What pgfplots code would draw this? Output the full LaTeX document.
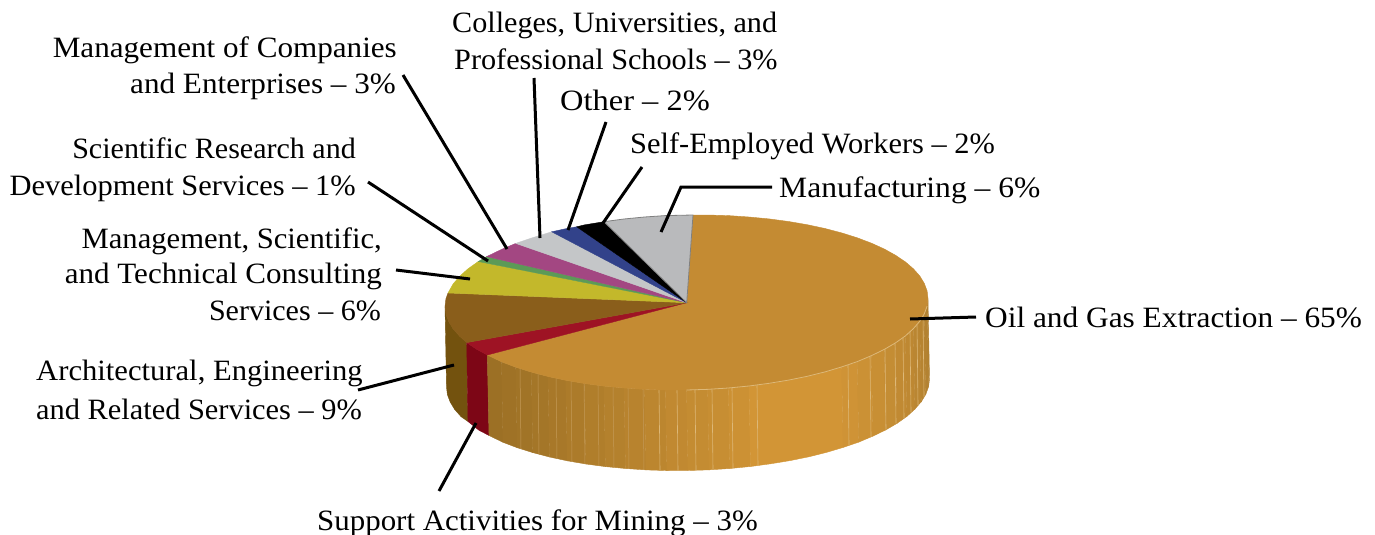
\documentclass[border=0pt]{standalone}
\usepackage{fontspec}
\setmainfont{Liberation Serif}
\usepackage{graphicx}
\usepackage{pgfplots}
\pgfplotsset{compat=1.18}

\definecolor{sideA}{HTML}{9C7025}
\definecolor{sideB}{HTML}{D29536}
\definecolor{sideC}{HTML}{B08030}
\definecolor{oiltop}{HTML}{C48B33}
\definecolor{browntop}{HTML}{8A5E1B}
\definecolor{brownside}{HTML}{73520E}
\definecolor{redtop}{HTML}{9E1324}
\definecolor{redside}{HTML}{7D0616}
\definecolor{yellowtop}{HTML}{C3B82B}
\definecolor{greentop}{HTML}{5C9A57}
\definecolor{magentatop}{HTML}{A34782}
\definecolor{lightgreytop}{HTML}{C4C6C8}
\definecolor{bluetop}{HTML}{32428A}
\definecolor{mfgtop}{HTML}{B9BABC}
\definecolor{seam}{HTML}{DDB878}
\definecolor{seamdark}{HTML}{C49A58}

% one facet of the pie's side wall, or one slice of its top
\newcommand{\panel}[2]{\addplot[fill=#1,draw=#1,line width=0.4pt] coordinates {#2} --cycle;}
\newcommand{\leadline}[1]{\addplot[black,line width=3pt] coordinates {#1};}
% anchor, x, y, horizontal stretch, text
\newcommand{\lab}[5]{\node[anchor=base #1,inner sep=0pt] at (axis cs:#2,#3) {\scalebox{#4}[1]{\fontsize{29.5}{36}\selectfont #5}};}

\begin{document}
\begin{tikzpicture}
\useasboundingbox (0,0) rectangle (1375pt,535pt);
\begin{axis}[
    at={(0,0)},anchor=south west,
    scale only axis,
    width=1375pt,height=535pt,
    xmin=0,xmax=1375,
    ymin=0,ymax=535,
    y dir=reverse,
    hide axis,
    clip=false,
]
% side wall, brown and red
\panel{brownside}{(445,306.5)(445.9,314.1)(448.7,321.6)(453.2,329)(459.6,336.2)(466.7,342.6)(468,421.5)(461.1,416.7)(454.7,409.5)(450.2,402.1)(447.4,394.6)(446.5,387)}
\panel{redside}{(466.7,342.6)(477.4,349.7)(487.3,355)(489,435.5)(478.9,430.2)(468,421.5)}
% side wall, oil and gas
\panel{sideB!0!sideA}{(487.3,355)(501.5,361.8)(503,442.3)(489,435.5)}
\panel{sideB!5!sideA}{(501.5,361.8)(515.7,367.2)(517.2,447.7)(503,442.3)}
\panel{sideB!10!sideA}{(515.7,367.2)(531.3,372.1)(532.8,452.6)(517.2,447.7)}
\panel{sideB!15!sideA}{(531.3,372.1)(548,376.5)(549.5,457)(532.8,452.6)}
\panel{sideB!22!sideA}{(548,376.5)(565.75,380.3)(567.25,460.8)(549.5,457)}
\panel{sideB!30!sideA}{(565.75,380.3)(584.4,383.5)(585.9,464)(567.25,460.8)}
\panel{sideB!37!sideA}{(584.4,383.5)(603.9,386.1)(605.4,466.6)(585.9,464)}
\panel{sideB!45!sideA}{(603.9,386.1)(624,388)(625.5,468.5)(605.4,466.6)}
\panel{sideB!52!sideA}{(624,388)(644.6,389.4)(646.1,469.9)(625.5,468.5)}
\panel{sideB!60!sideA}{(644.6,389.4)(665.4,390.05)(666.9,470.55)(646.1,469.9)}
\panel{sideB!68!sideA}{(665.4,390.05)(686.5,390)(688,470.5)(666.9,470.55)}
\panel{sideB!75!sideA}{(686.5,390)(707.6,389.35)(709.1,469.85)(688,470.5)}
\panel{sideB!80!sideA}{(707.6,389.35)(728.4,388)(729.9,468.5)(709.1,469.85)}
\panel{sideB!88!sideA}{(728.4,388)(749,386)(750.5,466.5)(729.9,468.5)}
\panel{sideB}{(749,386)(769.1,383.3)(788.6,380.1)(807.25,376.3)(825,371.9)(841.7,366.9)(843.2,447.4)(826.5,452.4)(808.75,456.8)(790.1,460.6)(770.6,463.8)(750.5,466.5)}
\panel{sideB!92!sideC}{(841.7,366.9)(857.3,361.6)(858.8,442.1)(843.2,447.4)}
\panel{sideB!80!sideC}{(857.3,361.6)(871.5,355.6)(873,436.1)(858.8,442.1)}
\panel{sideB!70!sideC}{(871.5,355.6)(884.3,349.4)(885.8,429.9)(873,436.1)}
\panel{sideB!60!sideC}{(884.3,349.4)(895.6,342.8)(897.1,423.3)(885.8,429.9)}
\panel{sideB!50!sideC}{(895.6,342.8)(905.4,335.9)(906.9,416.4)(897.1,423.3)}
\panel{sideB!40!sideC}{(905.4,335.9)(913.4,328.6)(914.9,409.1)(906.9,416.4)}
\panel{sideB!30!sideC}{(913.4,328.6)(919.8,321.2)(921.3,401.7)(914.9,409.1)}
\panel{sideB!20!sideC}{(919.8,321.2)(924.3,313.8)(925.8,394.3)(921.3,401.7)}
\panel{sideB!10!sideC}{(924.3,313.8)(927.1,306.1)(928.6,386.6)(925.8,394.3)}
\panel{sideC}{(927.1,306.1)(928,298.5)(929.5,379)(928.6,386.6)}
% seams on the wall, fainter on the shaded left part
\addplot[seamdark,line width=0.5pt,unbounded coords=jump] coordinates {
(520,369)(521,449)(521,nan)
(538,374)(539,454)(539,nan)
(556,378.2)(557,458.7)(557,nan)
(571,381.2)(572,461.7)(572,nan)
(584,383.5)(585,464)(585,nan)
(598,385.3)(599,465.8)(599,nan)
(613,387)(614,467.5)(614,nan)
(628,388.3)(629,468.8)(629,nan)
(643,389.3)(644,469.8)
};
\addplot[seam,line width=0.6pt,unbounded coords=jump] coordinates {
(659,389.9)(660,470.4)(660,nan)
(677,390)(678,470.5)(678,nan)
(695,389.8)(696,470.3)(696,nan)
(712,389.2)(713,469.7)(713,nan)
(732,387.7)(733,468.2)(733,nan)
(757,385)(758,465.5)(758,nan)
(848,364.8)(849,445.3)(849,nan)
(870,356.2)(871,436.7)(871,nan)
(885,349)(886,429.5)(886,nan)
(895,342.8)(896,423.3)(896,nan)
(903,337.6)(904,418)(904,nan)
(910,331.7)(911,412)(911,nan)
(917,324.4)(918,405)(918,nan)
(923,316)(924,396.5)
};
% top face
\panel{oiltop}{(686.7,302.7)(693,215)(707.6,215)(728.4,215.6)(749,217)(769.1,218.9)(788.6,221.5)(807.25,224.7)(825,228.5)(841.7,232.9)(857.3,237.8)(871.5,243.2)(884.3,249)(895.6,255.3)(905.4,261.9)(913.4,268.8)(919.8,276)(924.3,283.4)(927.1,290.9)(928,298.5)(927.1,306.1)(924.3,313.8)(919.8,321.2)(913.4,328.6)(905.4,335.9)(895.6,342.8)(884.3,349.4)(871.5,355.6)(857.3,361.6)(841.7,366.9)(825,371.9)(807.25,376.3)(788.6,380.1)(769.1,383.3)(749,386)(728.4,388)(707.6,389.35)(686.5,390)(665.4,390.05)(644.6,389.4)(624,388)(603.9,386.1)(584.4,383.5)(565.75,380.3)(548,376.5)(531.3,372.1)(515.7,367.2)(501.5,361.8)(487.3,355)}
\panel{redtop}{(686.7,302.7)(487.3,355)(477.4,349.7)(466.7,342.6)}
\panel{browntop}{(686.7,302.7)(466.7,342.6)(459.6,336.2)(453.2,329)(448.7,321.6)(445.9,314.1)(445,306.5)(445.9,298.9)(448,293)}
\panel{yellowtop}{(686.7,302.7)(448,293)(453.2,283.8)(459.6,276.4)(467.6,269.1)(478.3,261.5)}
\panel{greentop}{(686.7,302.7)(478.3,261.5)(486.7,256.6)}
\panel{magentatop}{(686.7,302.7)(486.7,256.6)(488.7,255.6)(501.5,249.4)(515.7,243.4)}
\panel{lightgreytop}{(686.7,302.7)(515.7,243.4)(531.3,238.1)(551.7,231.8)}
\panel{bluetop}{(686.7,302.7)(551.7,231.8)(565.75,228.7)(576.7,226.8)}
\panel{black}{(686.7,302.7)(576.7,226.8)(584.4,224.9)(603.9,221.7)}
\addplot[fill=mfgtop,draw=gray,line width=0.8pt] coordinates {(686.7,302.7)(603.9,221.7)(624,219)(644.6,217)(665.4,215.6)(693,215)} --cycle;
% pale rim of the top face
\addplot[seam,line width=0.8pt] coordinates {(686.5,390)(707.6,389.35)(728.4,388)(749,386)(769.1,383.3)(788.6,380.1)(807.25,376.3)(825,371.9)(841.7,366.9)(857.3,361.6)(871.5,355.6)(884.3,349.4)(895.6,342.8)(905.4,335.9)(913.4,328.6)(919.8,321.2)(924.3,313.8)(927.1,306.1)};
% leader lines
\leadline{(910,319)(976,317)}
\leadline{(661,232)(681,187)(772,187)}
\leadline{(603,223)(642,167)}
\leadline{(568,230)(606,122)}
\leadline{(540,238)(534,78)}
\leadline{(507,249)(403,75)}
\leadline{(488,261)(368,182)}
\leadline{(470,279)(396,270)}
\leadline{(454,365)(358,390)}
\leadline{(476,423)(439,491)}
% labels
\lab{west}{452}{33}{1.022}{Colleges, Universities, and}
\lab{west}{454}{70}{1.025}{Professional Schools – 3\%}
\lab{east}{397}{57}{1.055}{Management of Companies}
\lab{east}{396}{93}{1.056}{and Enterprises – 3\%}
\lab{west}{560}{110}{1.10}{Other – 2\%}
\lab{west}{630}{153}{1.03}{Self-Employed Workers – 2\%}
\lab{west}{779}{197}{1.07}{Manufacturing – 6\%}
\lab{east}{356}{158}{1.018}{Scientific Research and}
\lab{east}{356}{195}{1.033}{Development Services – 1\%}
\lab{east}{382}{248}{1.038}{Management, Scientific,}
\lab{east}{382}{283}{1.053}{and Technical Consulting}
\lab{east}{381}{320}{1.018}{Services – 6\%}
\lab{west}{985}{327}{1.062}{Oil and Gas Extraction – 65\%}
\lab{west}{36}{380}{1.038}{Architectural, Engineering}
\lab{west}{36}{419}{1.03}{and Related Services – 9\%}
\lab{west}{317}{530}{1.048}{Support Activities for Mining – 3\%}
\end{axis}
\end{tikzpicture}
\end{document}
